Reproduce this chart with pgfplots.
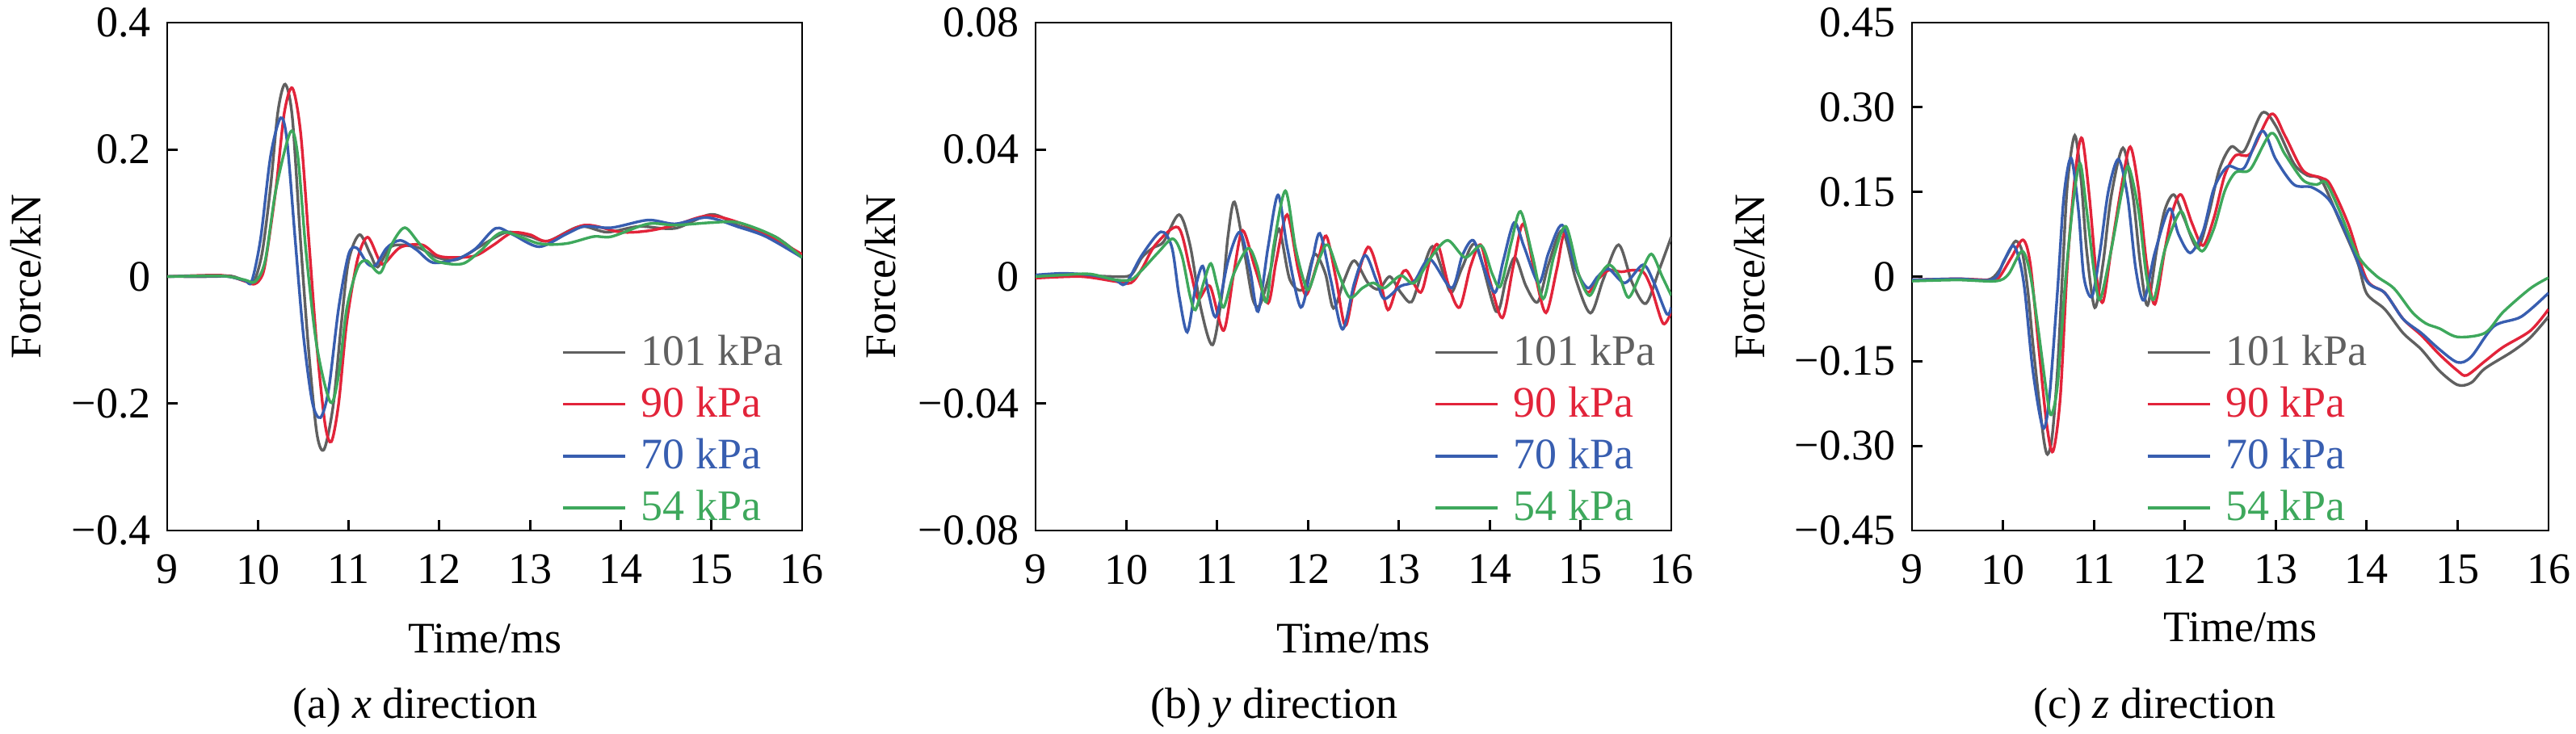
\documentclass[border=0pt]{standalone}
\usepackage{fontspec}
\setmainfont{Liberation Serif}
\usepackage{pgfplots}
\pgfplotsset{compat=1.18}
\definecolor{cgray}{RGB}{96,96,96}
\definecolor{cred}{RGB}{226,36,58}
\definecolor{cblue}{RGB}{56,94,176}
\definecolor{cgreen}{RGB}{62,168,92}
\newcommand{\fs}{\fontsize{13.5}{16}\selectfont}
\pgfplotsset{
  panel/.style={
    scale only axis, height=157.25pt,
    xmin=9, xmax=16, xtick={9,10,11,12,13,14,15,16},
    xticklabels={9,10,11,12,13,14,15,16},
    scaled y ticks=false,
    tick align=inside, xtick pos=left, ytick pos=left,
    major tick length=3.25pt,
    axis line style={line width=0.7pt},
    every tick/.style={black, line width=0.7pt},
    tick label style={font=\fs},
    label style={font=\fs},
    xticklabel style={yshift=-4pt},
    yticklabel style={xshift=-1.5pt},
    ylabel={Force/kN}, xlabel={Time/ms},
    clip mode=individual,
    legend style={draw=none, fill=none, font=\fs, legend cell align=left,
      row sep=3.2pt, inner sep=0pt, anchor=north west,
      nodes={inner sep=1pt},
      /tikz/every odd column/.append style={column sep=3.5pt}},
    legend image code/.code={\draw[#1, line width=0.85pt] (0pt,0pt) -- (19.25pt,0pt);},
    every axis plot/.append style={line width=0.85pt, smooth},
  }
}
\begin{document}
\begin{tikzpicture}
\path[use as bounding box] (0,0) rectangle (797.25pt,227.25pt);
% ---------------- (a) ----------------
\begin{axis}[panel, width=196.5pt, at={(51.75pt,63pt)}, anchor=south west,
  ymin=-0.4, ymax=0.4, ytick={-0.4,-0.2,0,0.2,0.4},
  yticklabels={−0.4,−0.2,0,0.2,0.4},
  ylabel style={at={(axis description cs:-0.2226,0.5)}, anchor=center},
  xlabel style={at={(axis description cs:0.5006,-0.2405)}, anchor=base},
  legend style={at={(0.62,0.393)}}]
\addplot[cgray] coordinates {(9.0,0) (9.5,0) (9.7,0.001) (9.85,-0.006) (9.92,-0.009) (9.97,-0.004) (10.05,0.04) (10.14,0.142) (10.22,0.259) (10.30,0.303) (10.38,0.25) (10.47,0.056) (10.56,-0.117) (10.65,-0.247) (10.73,-0.272) (10.83,-0.203) (10.92,-0.074) (11.00,0.025) (11.12,0.066) (11.24,0.035) (11.32,0.015) (11.45,0.045) (11.57,0.05) (11.78,0.045) (11.98,0.03) (12.2,0.027) (12.5,0.052) (12.75,0.07) (13.0,0.063) (13.2,0.056) (13.55,0.079) (13.85,0.07) (14.2,0.079) (14.6,0.076) (15.0,0.098) (15.3,0.08) (15.7,0.063) (16,0.031)};
\addlegendentry{\textcolor{cgray}{101 kPa}}
\addplot[cred] coordinates {(9.0,0) (9.6,0.002) (9.85,-0.007) (9.95,-0.012) (10.02,-0.005) (10.08,0.02) (10.20,0.14) (10.29,0.257) (10.38,0.297) (10.47,0.228) (10.56,0.06) (10.65,-0.11) (10.74,-0.232) (10.81,-0.26) (10.89,-0.2) (10.98,-0.072) (11.10,0.028) (11.21,0.062) (11.33,0.028) (11.39,0.02) (11.57,0.046) (11.81,0.05) (11.98,0.033) (12.16,0.03) (12.4,0.033) (12.6,0.05) (12.8,0.069) (13.0,0.066) (13.2,0.056) (13.6,0.081) (14.0,0.07) (14.3,0.072) (14.6,0.081) (15.0,0.096) (15.5,0.074) (16,0.035)};
\addlegendentry{\textcolor{cred}{90 kPa}}
\addplot[cblue] coordinates {(9.0,0) (9.6,0.001) (9.85,-0.006) (9.93,-0.008) (10.03,0.06) (10.14,0.19) (10.25,0.25) (10.32,0.215) (10.41,0.06) (10.50,-0.09) (10.60,-0.198) (10.69,-0.222) (10.78,-0.178) (10.89,-0.05) (11.00,0.035) (11.09,0.045) (11.21,0.02) (11.30,0.018) (11.42,0.045) (11.57,0.057) (11.75,0.042) (11.93,0.022) (12.2,0.028) (12.4,0.044) (12.62,0.076) (12.8,0.067) (13.1,0.047) (13.4,0.067) (13.6,0.079) (13.9,0.077) (14.3,0.089) (14.6,0.083) (14.95,0.093) (15.3,0.078) (15.6,0.063) (16,0.03)};
\addlegendentry{\textcolor{cblue}{70 kPa}}
\addplot[cgreen] coordinates {(9.0,0) (9.6,0.001) (9.85,-0.005) (9.97,-0.008) (10.08,0.025) (10.20,0.138) (10.36,0.228) (10.44,0.19) (10.53,0.04) (10.65,-0.11) (10.80,-0.198) (10.89,-0.155) (10.98,-0.05) (11.10,0.014) (11.20,0.025) (11.35,0.006) (11.48,0.052) (11.62,0.077) (11.78,0.052) (11.96,0.025) (12.25,0.02) (12.45,0.04) (12.7,0.07) (13.1,0.052) (13.4,0.052) (13.7,0.063) (13.9,0.063) (14.3,0.083) (14.6,0.081) (15.0,0.085) (15.3,0.085) (15.7,0.063) (16,0.03)};
\addlegendentry{\textcolor{cgreen}{54 kPa}}
\node[font=\fs, anchor=base] at (axis description cs:0.391,-0.3704) {(a) \textit{x} direction};
\end{axis}
% ---------------- (b) ----------------
\begin{axis}[panel, width=196.75pt, at={(320.5pt,63pt)}, anchor=south west,
  ymin=-0.08, ymax=0.08, ytick={-0.08,-0.04,0,0.04,0.08},
  yticklabels={−0.08,−0.04,0,0.04,0.08},
  ylabel style={at={(axis description cs:-0.244,0.5)}, anchor=center},
  xlabel style={at={(axis description cs:0.50,-0.2405)}, anchor=base},
  legend style={at={(0.626,0.393)}}]
\addplot[cgray] coordinates {(9.0,0.0002) (9.3,0.0005) (9.6,0.0003) (9.87,0) (10.05,0.0005) (10.17,0.006) (10.29,0.009) (10.41,0.011) (10.58,0.0195) (10.70,0.010) (10.82,-0.010) (10.95,-0.0215) (11.06,-0.004) (11.12,0.013) (11.19,0.0235) (11.30,0.0076) (11.39,-0.007) (11.47,-0.009) (11.59,0.0024) (11.68,0.015) (11.80,-0.001) (11.95,-0.004) (12.07,0.007) (12.19,0.001) (12.28,-0.010) (12.40,-0.001) (12.51,0.005) (12.66,-0.002) (12.78,-0.004) (12.90,0) (13.02,-0.005) (13.14,-0.008) (13.25,0.001) (13.37,0.0095) (13.49,0.001) (13.58,-0.005) (13.70,0.003) (13.85,0.010) (14.07,-0.011) (14.18,-0.001) (14.28,0.006) (14.40,-0.003) (14.53,-0.008) (14.65,0.004) (14.80,0.0145) (14.95,-0.001) (15.11,-0.0115) (15.25,-0.001) (15.42,0.010) (15.57,-0.002) (15.72,-0.0085) (15.87,0.0024) (16.0,0.0125)};
\addlegendentry{\textcolor{cgray}{101 kPa}}
\addplot[cred] coordinates {(9.0,-0.0005) (9.5,0) (9.87,-0.0015) (10.05,-0.002) (10.17,0.0024) (10.32,0.010) (10.57,0.0155) (10.70,0.0024) (10.79,-0.007) (10.92,-0.003) (11.07,-0.017) (11.18,0.0007) (11.28,0.0145) (11.42,0.0024) (11.56,-0.0084) (11.65,0.005) (11.77,0.0195) (11.89,0.0024) (11.98,-0.0058) (12.10,0.004) (12.20,0.0128) (12.31,-0.001) (12.41,-0.0155) (12.51,-0.0036) (12.66,0.0093) (12.78,0.0007) (12.88,-0.0105) (12.99,-0.002) (13.08,0.002) (13.24,-0.005) (13.34,0.005) (13.43,0.010) (13.55,-0.003) (13.67,-0.0097) (13.79,0.0033) (13.90,0.010) (14.00,-0.001) (14.14,-0.013) (14.26,0.0033) (14.37,0.0166) (14.50,0.0007) (14.62,-0.0114) (14.74,0.0024) (14.83,0.0136) (14.98,0.0007) (15.08,-0.005) (15.19,-0.001) (15.31,0.002) (15.45,0.0015) (15.57,0.002) (15.69,0.0015) (15.78,-0.0036) (15.91,-0.0148) (16.0,-0.011)};
\addlegendentry{\textcolor{cred}{90 kPa}}
\addplot[cblue] coordinates {(9.0,0.0005) (9.3,0.001) (9.6,0.0005) (9.87,-0.001) (9.99,-0.0023) (10.17,0.0067) (10.38,0.0141) (10.50,0.0093) (10.58,-0.006) (10.67,-0.0175) (10.76,-0.0036) (10.84,0.0033) (10.91,-0.006) (10.99,-0.0125) (11.12,0.005) (11.25,0.014) (11.36,0.0024) (11.45,-0.011) (11.56,0.0093) (11.67,0.0257) (11.77,0.0093) (11.92,-0.0097) (12.04,0.004) (12.13,0.0136) (12.25,-0.001) (12.38,-0.0166) (12.51,-0.002) (12.63,0.0067) (12.75,-0.001) (12.84,-0.007) (13.02,-0.003) (13.17,-0.0015) (13.34,0.0055) (13.58,-0.0036) (13.70,0.0067) (13.82,0.0114) (13.94,0.0024) (14.06,-0.005) (14.15,0.005) (14.27,0.017) (14.38,0.0093) (14.54,-0.002) (14.65,0.0076) (14.80,0.0162) (14.95,0.0024) (15.08,-0.0036) (15.19,0) (15.31,0.0024) (15.49,-0.002) (15.69,0.0037) (15.81,-0.002) (15.95,-0.0118) (16.0,-0.0097)};
\addlegendentry{\textcolor{cblue}{70 kPa}}
\addplot[cgreen] coordinates {(9.0,0) (9.3,0.0005) (9.6,0.0008) (9.87,-0.001) (10.05,-0.001) (10.17,0.002) (10.35,0.0076) (10.51,0.0119) (10.61,0.0067) (10.70,-0.006) (10.76,-0.0105) (10.85,-0.002) (10.93,0.0041) (11.00,-0.003) (11.07,-0.0097) (11.18,0.0007) (11.34,0.0089) (11.44,0.0033) (11.54,-0.008) (11.62,0.0093) (11.75,0.027) (11.86,0.0093) (11.95,-0.001) (12.01,-0.004) (12.13,0.006) (12.22,0.010) (12.34,0.0007) (12.46,-0.0066) (12.60,-0.0036) (12.72,-0.002) (12.84,-0.0036) (13.02,0.0003) (13.17,-0.002) (13.37,0.0067) (13.54,0.0114) (13.73,0.006) (13.91,0.0097) (14.03,0.0007) (14.12,-0.003) (14.24,0.011) (14.34,0.0205) (14.47,0.0067) (14.59,-0.007) (14.71,0.0067) (14.84,0.0158) (14.98,0.0007) (15.10,-0.006) (15.22,0.0007) (15.32,0.0037) (15.43,0) (15.53,-0.0066) (15.66,0.0007) (15.78,0.0071) (15.90,0) (16.0,-0.006)};
\addlegendentry{\textcolor{cgreen}{54 kPa}}
\node[font=\fs, anchor=base] at (axis description cs:0.375,-0.3704) {(b) \textit{y} direction};
\end{axis}
% ---------------- (c) ----------------
\begin{axis}[panel, width=197pt, at={(591.75pt,63pt)}, anchor=south west,
  ymin=-0.45, ymax=0.45, ytick={-0.45,-0.30,-0.15,0,0.15,0.30,0.45},
  yticklabels={−0.45,−0.30,−0.15,0,0.15,0.30,0.45},
  ylabel style={at={(axis description cs:-0.255,0.5)}, anchor=center},
  xlabel style={at={(axis description cs:0.516,-0.218)}, anchor=base},
  legend style={at={(0.367,0.393)}}]
\addplot[cgray] coordinates {(9.0,-0.006) (9.5,-0.005) (9.83,-0.006) (9.95,0.009) (10.06,0.042) (10.14,0.063) (10.21,0.045) (10.27,-0.02) (10.33,-0.12) (10.39,-0.21) (10.45,-0.29) (10.49,-0.315) (10.54,-0.285) (10.60,-0.165) (10.66,0.023) (10.71,0.166) (10.79,0.25) (10.86,0.17) (10.92,0.047) (11.01,-0.055) (11.10,0.023) (11.19,0.142) (11.32,0.228) (11.43,0.142) (11.51,0.023) (11.59,-0.051) (11.69,0.047) (11.78,0.118) (11.88,0.145) (11.99,0.104) (12.14,0.051) (12.26,0.109) (12.38,0.19) (12.51,0.23) (12.65,0.222) (12.85,0.29) (13.0,0.267) (13.2,0.2) (13.35,0.179) (13.5,0.171) (13.7,0.1) (13.9,0.025) (14.0,-0.03) (14.2,-0.058) (14.4,-0.1) (14.6,-0.129) (14.8,-0.167) (15.0,-0.192) (15.15,-0.188) (15.3,-0.163) (15.6,-0.133) (15.8,-0.108) (16,-0.071)};
\addlegendentry{\textcolor{cgray}{101 kPa}}
\addplot[cred] coordinates {(9.0,-0.006) (9.5,-0.004) (9.85,-0.006) (9.95,-0.003) (10.09,0.033) (10.22,0.065) (10.30,0.023) (10.39,-0.12) (10.48,-0.26) (10.55,-0.31) (10.63,-0.215) (10.71,0.023) (10.80,0.19) (10.87,0.245) (10.95,0.142) (11.03,-0.001) (11.10,-0.045) (11.19,0.047) (11.31,0.166) (11.40,0.23) (11.49,0.156) (11.58,0.023) (11.67,-0.049) (11.78,0.047) (11.87,0.118) (11.96,0.145) (12.08,0.094) (12.20,0.055) (12.32,0.104) (12.44,0.18) (12.56,0.215) (12.72,0.218) (12.95,0.288) (13.1,0.25) (13.3,0.188) (13.5,0.175) (13.6,0.163) (13.8,0.092) (14.0,-0.005) (14.2,-0.029) (14.4,-0.075) (14.6,-0.104) (14.8,-0.138) (15.0,-0.167) (15.1,-0.175) (15.3,-0.15) (15.5,-0.125) (15.8,-0.096) (16,-0.058)};
\addlegendentry{\textcolor{cred}{90 kPa}}
\addplot[cblue] coordinates {(9.0,-0.006) (9.5,-0.004) (9.89,-0.005) (10.01,0.028) (10.11,0.055) (10.18,0.03) (10.24,-0.025) (10.33,-0.168) (10.44,-0.268) (10.51,-0.215) (10.60,-0.025) (10.67,0.142) (10.75,0.21) (10.83,0.118) (10.89,-0.001) (10.98,-0.035) (11.07,0.047) (11.16,0.152) (11.27,0.208) (11.37,0.142) (11.46,0.014) (11.55,-0.042) (11.67,0.042) (11.83,0.12) (11.93,0.075) (12.06,0.042) (12.20,0.08) (12.32,0.156) (12.47,0.195) (12.65,0.192) (12.85,0.258) (13.0,0.208) (13.2,0.163) (13.4,0.158) (13.6,0.133) (13.8,0.067) (14.0,-0.008) (14.2,-0.029) (14.4,-0.075) (14.6,-0.1) (14.8,-0.129) (15.0,-0.152) (15.15,-0.142) (15.4,-0.088) (15.7,-0.071) (16,-0.029)};
\addlegendentry{\textcolor{cblue}{70 kPa}}
\addplot[cgreen] coordinates {(9.0,-0.008) (9.5,-0.006) (9.92,-0.008) (10.06,0.004) (10.21,0.045) (10.30,0.004) (10.39,-0.096) (10.48,-0.206) (10.53,-0.245) (10.60,-0.192) (10.69,-0.001) (10.78,0.142) (10.85,0.2) (10.92,0.118) (11.01,-0.001) (11.07,-0.04) (11.19,0.047) (11.31,0.152) (11.38,0.195) (11.49,0.118) (11.58,-0.001) (11.66,-0.04) (11.78,0.047) (11.95,0.115) (12.05,0.08) (12.19,0.045) (12.32,0.085) (12.44,0.152) (12.56,0.185) (12.72,0.19) (12.95,0.254) (13.1,0.217) (13.3,0.171) (13.45,0.163) (13.55,0.167) (13.7,0.117) (13.9,0.038) (14.1,0.002) (14.3,-0.021) (14.5,-0.063) (14.65,-0.083) (14.8,-0.092) (15.0,-0.107) (15.3,-0.1) (15.5,-0.063) (15.8,-0.021) (16,-0.002)};
\addlegendentry{\textcolor{cgreen}{54 kPa}}
\node[font=\fs, anchor=base] at (axis description cs:0.381,-0.3704) {(c) \textit{z} direction};
\end{axis}
\end{tikzpicture}
\end{document}
